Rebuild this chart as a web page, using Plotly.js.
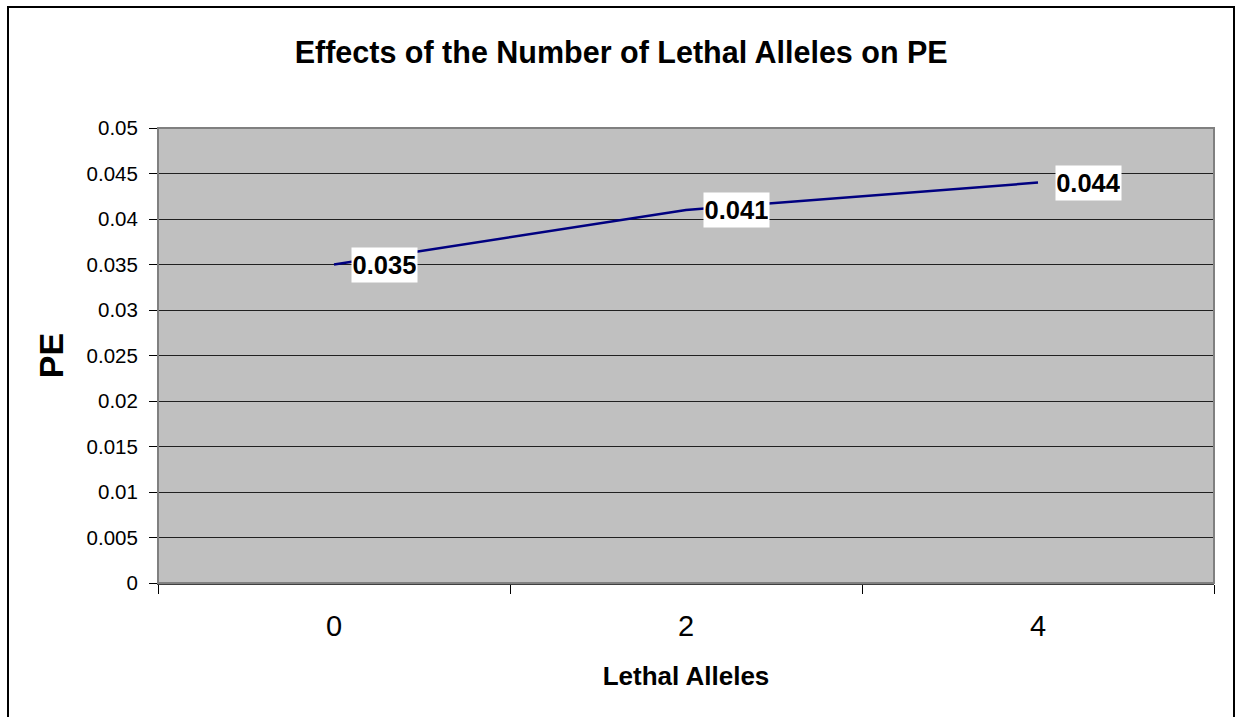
<!DOCTYPE html>
<html>
<head>
<meta charset="utf-8">
<script src="https://cdn.plot.ly/plotly-3.0.1.min.js"></script>
<style>
  html, body { margin: 0; padding: 0; background: #ffffff; }
  #chart { width: 1235px; height: 717px; }
</style>
</head>
<body>
<div id="chart"></div>
<script>
const categories = ["0", "2", "4"];
const peValues = [0.035, 0.041, 0.044];
const labelTexts = ["0.035", "0.041", "0.044"];
const yTickVals = [0, 0.005, 0.01, 0.015, 0.02, 0.025, 0.03, 0.035, 0.04, 0.045, 0.05];
const yTickText = ["0", "0.005", "0.01", "0.015", "0.02", "0.025", "0.03", "0.035", "0.04", "0.045", "0.05"];

const FONT = "Liberation Sans, Arial, Helvetica, sans-serif";

const trace = {
  type: "scatter",
  mode: "lines",
  x: categories,
  y: peValues,
  line: { color: "#000080", width: 2.5 },
  hoverinfo: "x+y",
  showlegend: false
};

// category axis: annotations use the category index
const annotations = categories.map((c, i) => ({
  x: i,
  y: peValues[i],
  xref: "x",
  yref: "y",
  text: "<b>" + labelTexts[i] + "</b>",
  showarrow: false,
  xanchor: "left",
  yanchor: "middle",
  xshift: 17,
  width: 63,
  height: 32,
  align: "center",
  valign: "middle",
  bgcolor: "#ffffff",
  borderpad: 1,
  font: { family: FONT, size: 25.5, color: "#000000" }
}));

const layout = {
  width: 1235,
  height: 717,
  margin: { l: 158, r: 21, t: 128, b: 134 },
  paper_bgcolor: "#ffffff",
  plot_bgcolor: "#c0c0c0",
  font: { family: FONT, color: "#000000" },
  title: {
    text: "<b>Effects of the Number of Lethal Alleles on PE</b>",
    font: { family: FONT, size: 30.5, color: "#000000" },
    x: 0.503,
    xanchor: "center",
    xref: "container",
    y: 1 - 52 / 717,
    yanchor: "middle",
    yref: "container"
  },
  xaxis: {
    type: "category",
    range: [-0.5, 2.5],
    tickson: "boundaries",
    ticks: "outside",
    ticklen: 9,
    tickwidth: 1,
    tickcolor: "#000000",
    ticklabelstandoff: 16,
    showgrid: false,
    showline: true,
    linecolor: "#404040",
    linewidth: 2,
    tickfont: { family: FONT, size: 29, color: "#000000" },
    title: {
      text: "<b>Lethal Alleles</b>",
      font: { family: FONT, size: 26, color: "#000000" },
      standoff: 26
    },
    fixedrange: true
  },
  yaxis: {
    range: [0, 0.05],
    tickmode: "array",
    tickvals: yTickVals,
    ticktext: yTickText,
    ticks: "outside",
    ticklen: 8,
    tickcolor: "#000000",
    ticklabelstandoff: 7,
    showgrid: true,
    gridcolor: "#202020",
    gridwidth: 1,
    zeroline: false,
    showline: true,
    linecolor: "#000000",
    linewidth: 1,
    tickfont: { family: FONT, size: 20.5, color: "#000000" },
    title: {
      text: "<b>PE</b>",
      font: { family: FONT, size: 34, color: "#000000" },
      standoff: 12
    },
    fixedrange: true
  },
  annotations: annotations,
  shapes: [
    {
      type: "rect", xref: "paper", yref: "paper",
      x0: 0, x1: 1, y0: 0, y1: 1,
      line: { color: "#808080", width: 2 },
      fillcolor: "rgba(0,0,0,0)",
      layer: "above"
    },
    {
      type: "rect", xref: "paper", yref: "paper",
      x0: (8 - 158) / 1056, x1: (1234 - 158) / 1056,
      y0: (583 - 730) / 455, y1: (583 - 7) / 455,
      line: { color: "#000000", width: 2 },
      fillcolor: "rgba(0,0,0,0)",
      layer: "above"
    }
  ]
};

Plotly.newPlot("chart", [trace], layout, { displayModeBar: false, staticPlot: true });
</script>
</body>
</html>
